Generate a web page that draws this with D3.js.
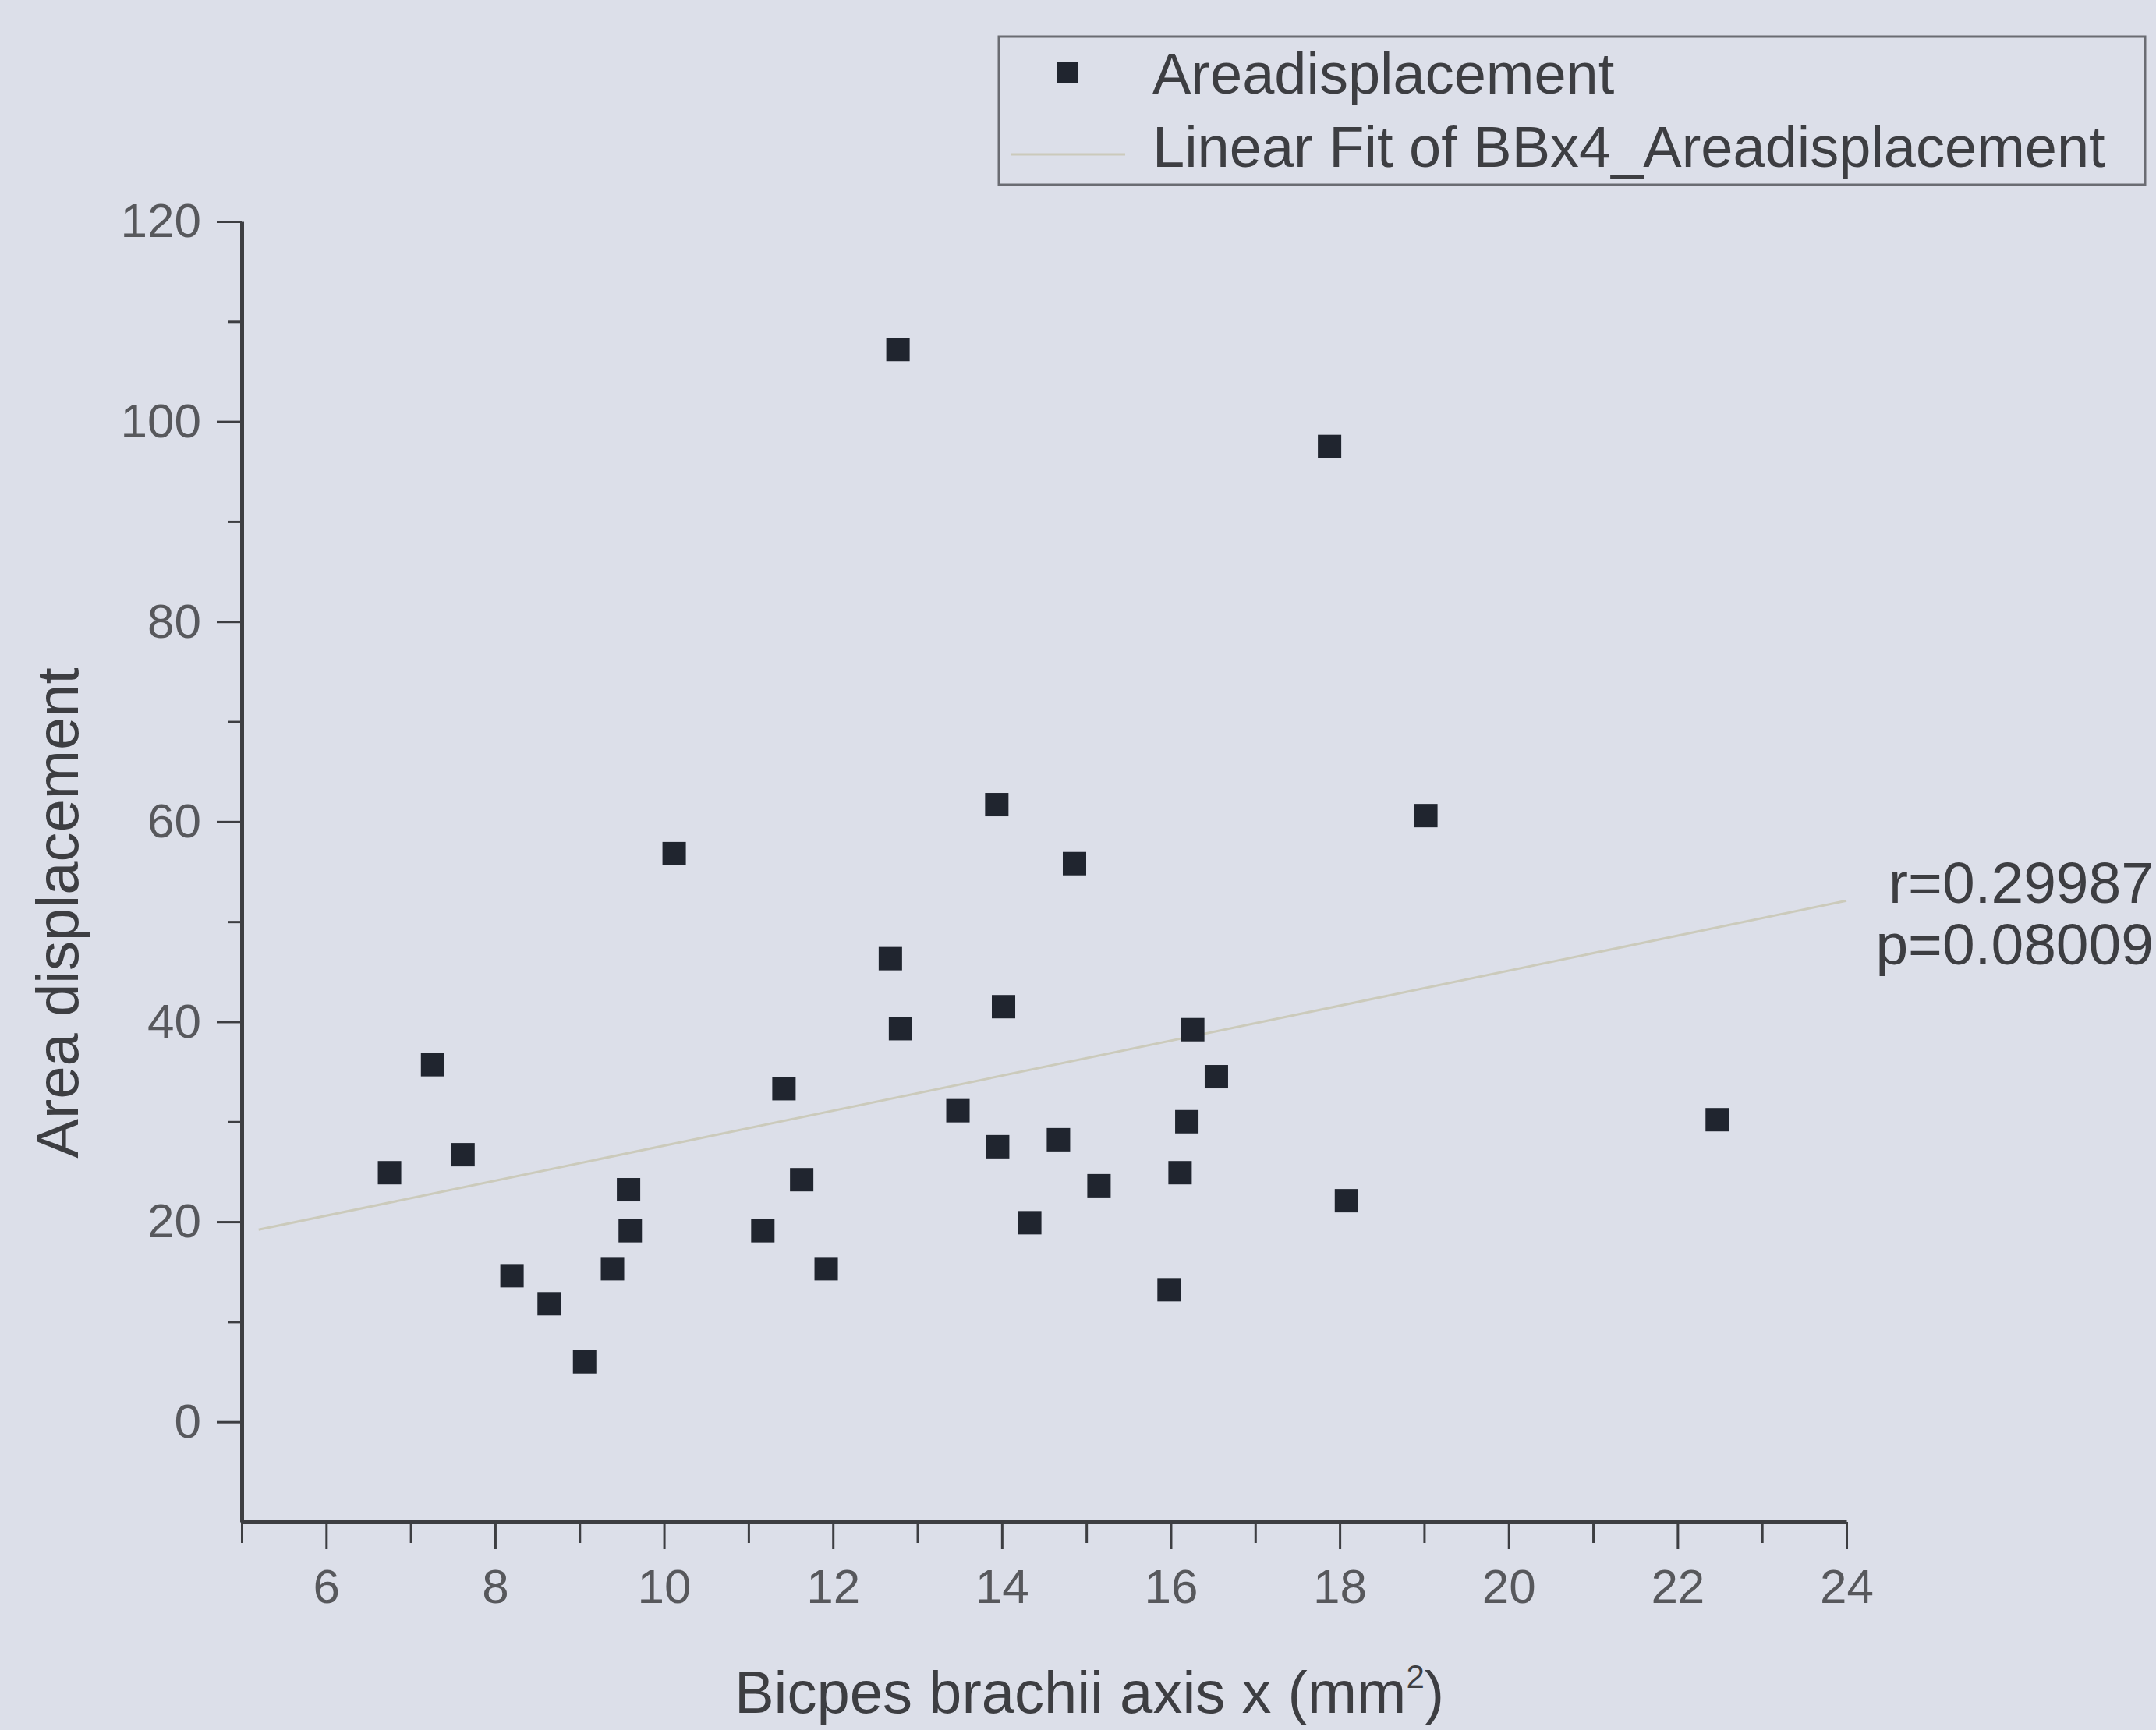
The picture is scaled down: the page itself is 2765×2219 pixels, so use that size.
<!DOCTYPE html>
<html>
<head>
<meta charset="utf-8">
<script src="https://cdnjs.cloudflare.com/ajax/libs/d3/7.8.5/d3.min.js"></script>
<style>
  body { margin: 0; background: #dcdfe9; }
  text { font-family: "Liberation Sans", Arial, sans-serif; }
</style>
</head>
<body>
<div id="container"></div>
<script>
// data
const areaX = [6.75, 7.26, 7.62, 8.20, 8.64, 9.06, 9.39, 9.58, 9.60, 10.12,
  11.17, 11.42, 11.63, 11.92, 12.68, 12.77, 12.80, 13.48, 13.94, 13.95,
  14.02, 14.33, 14.67, 14.86, 15.15, 15.98, 16.11, 16.19, 16.26, 16.54,
  17.88, 18.08, 19.02, 22.47];
const areaY = [24.9, 35.7, 26.7, 14.6, 11.8, 6.0, 15.3, 23.2, 19.1, 56.8,
  19.1, 33.3, 24.2, 15.3, 46.3, 107.2, 39.3, 31.1, 61.7, 27.5,
  41.5, 19.9, 28.2, 55.8, 23.6, 13.2, 24.9, 30.0, 39.2, 34.5,
  97.5, 22.1, 60.6, 30.2];
const fitX = [5.2, 24];
const fitY = [19.2, 52.1];
const xTicks = [6, 8, 10, 12, 14, 16, 18, 20, 22, 24];
const xMinor = [5, 7, 9, 11, 13, 15, 17, 19, 21, 23];
const yTicks = [0, 20, 40, 60, 80, 100, 120];
const yMinor = [10, 30, 50, 70, 90, 110];
const legendLabels = ["Areadisplacement", "Linear Fit of BBx4_Areadisplacement"];
const statLabels = ["r=0.29987", "p=0.08009"];

const W = 2765, H = 2219;
const inkColor = "#3d3e42";
const tickText = "#57585c";
const fitColor = "#cbcabb";

let svg = d3.select("#container").append("svg")
  .attr("width", W)
  .attr("height", H);

svg.append("rect")
  .attr("width", W)
  .attr("height", H)
  .attr("fill", "#dcdfe9");

let x = d3.scaleLinear().domain([5, 24]).range([310, 2368]);
let y = d3.scaleLinear().domain([-10, 120]).range([1952, 284]);

// minor ticks first, under the major axis
svg.append("g")
  .attr("transform", `translate(0,${y(-10)})`)
  .call(d3.axisBottom(x).tickValues(xMinor).tickSize(27).tickFormat(""))
  .call(g => g.select(".domain").remove())
  .call(g => g.selectAll("line").attr("stroke", inkColor).attr("stroke-width", 3));

svg.append("g")
  .attr("transform", `translate(${x(5)},0)`)
  .call(d3.axisLeft(y).tickValues(yMinor).tickSize(17).tickFormat(""))
  .call(g => g.select(".domain").remove())
  .call(g => g.selectAll("line").attr("stroke", inkColor).attr("stroke-width", 3));

let xAxis = svg.append("g")
  .attr("transform", `translate(0,${y(-10)})`)
  .call(d3.axisBottom(x).tickValues(xTicks).tickSize(35).tickSizeOuter(0).tickPadding(25));

let yAxis = svg.append("g")
  .attr("transform", `translate(${x(5)},0)`)
  .call(d3.axisLeft(y).tickValues(yTicks).tickSize(32).tickSizeOuter(0).tickPadding(20));

[xAxis, yAxis].forEach(g => {
  g.select(".domain").attr("stroke", inkColor).attr("stroke-width", 5);
  g.selectAll(".tick line").attr("stroke", inkColor).attr("stroke-width", 3);
  g.selectAll(".tick text")
    .attr("fill", tickText)
    .style("font-size", "62px")
    .style("font-family", "'Liberation Sans', Arial, sans-serif");
});

// fit line
svg.append("line")
  .attr("x1", x(fitX[0]))
  .attr("y1", y(fitY[0]))
  .attr("x2", x(fitX[1]))
  .attr("y2", y(fitY[1]))
  .attr("stroke", fitColor)
  .attr("stroke-width", 3);

// points
const pts = areaX.map((v, i) => ({ x: v, y: areaY[i] }));
const ms = 30;
svg.append("g")
  .selectAll("rect")
  .data(pts)
  .join("rect")
  .attr("x", d => x(d.x) - ms / 2)
  .attr("y", d => y(d.y) - ms / 2)
  .attr("width", ms)
  .attr("height", ms)
  .attr("fill", "#20252f");

// axis titles
svg.append("text")
  .attr("transform", "translate(100,1171) rotate(-90)")
  .attr("text-anchor", "middle")
  .attr("fill", inkColor)
  .style("font-size", "76px")
  .text("Area displacement");

let xt = svg.append("text")
  .attr("x", 1397)
  .attr("y", 2197)
  .attr("text-anchor", "middle")
  .attr("fill", inkColor)
  .style("font-size", "76px");
xt.append("tspan").text("Bicpes brachii axis x (mm");
xt.append("tspan").attr("dy", -32).style("font-size", "42px").text("2");
xt.append("tspan").attr("dy", 32).text(")");

// r and p
svg.append("g")
  .selectAll("text")
  .data(statLabels)
  .join("text")
  .attr("x", 2762)
  .attr("y", (d, i) => 1158 + i * 79)
  .attr("text-anchor", "end")
  .attr("fill", inkColor)
  .style("font-size", "75px")
  .text(d => d);

// legend
let lg = svg.append("g");
lg.append("rect")
  .attr("x", 1281)
  .attr("y", 47)
  .attr("width", 1470)
  .attr("height", 190)
  .attr("fill", "none")
  .attr("stroke", "#6a6c72")
  .attr("stroke-width", 3);
lg.append("rect")
  .attr("x", 1369 - 14)
  .attr("y", 93 - 14)
  .attr("width", 28)
  .attr("height", 28)
  .attr("fill", "#20252f");
lg.append("line")
  .attr("x1", 1297)
  .attr("x2", 1443)
  .attr("y1", 198)
  .attr("y2", 198)
  .attr("stroke", fitColor)
  .attr("stroke-width", 3);
lg.selectAll("text.lab")
  .data(legendLabels)
  .join("text")
  .attr("class", "lab")
  .attr("x", 1478)
  .attr("y", (d, i) => 120 + i * 94)
  .attr("fill", inkColor)
  .style("font-size", "74px")
  .text(d => d);
</script>
</body>
</html>
